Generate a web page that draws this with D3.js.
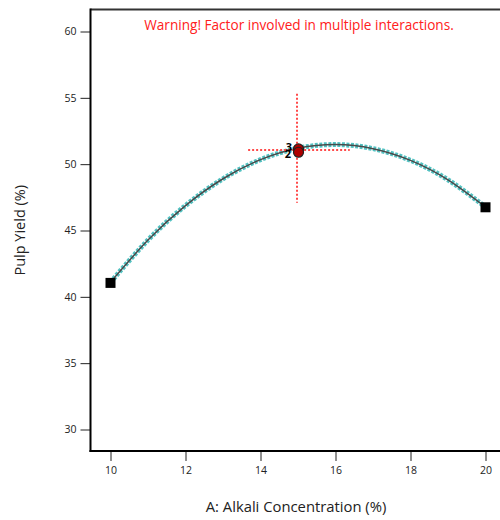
<!DOCTYPE html>
<html><head><meta charset="utf-8">
<script src="https://cdn.jsdelivr.net/npm/d3@7"></script>
<style>body{margin:0;background:#fff}svg{display:block}</style>
</head><body>
<svg id="chart" width="500" height="520"></svg>
<script>
// Data
const curveX = [10, 11, 12, 13, 14, 15, 16, 17, 18, 19, 20];
const curveY = [41.10, 44.28, 46.88, 48.90, 50.34, 51.20, 51.48, 51.17, 50.29, 48.82, 46.77];
const endX = [10, 20];
const endY = [41.05, 46.75];
const centerX = [15, 15];
const centerY = [51.15, 50.9];
const centerLabels = ["3", "2"];
const xTicks = [10, 12, 14, 16, 18, 20];
const yTicks = [30, 35, 40, 45, 50, 55, 60];
const crossX = 15, crossY = 51.1;
const xTitle = "A: Alkali Concentration (%)";
const yTitle = "Pulp Yield (%)";
const warning = "Warning! Factor involved in multiple interactions.";

const svg = d3.select("#chart");
const font = "'Open Sans', 'Noto Sans', sans-serif";
const mLeft = 90.5, mTop = 9.5, mBottom = 451, mRight = 520;
const x = d3.scaleLinear().domain([10, 20]).range([110.5, 485.5]);
const y = d3.scaleLinear().domain([30, 60]).range([429.5, 31.5]);

// frame: top line
svg.append("line").attr("x1", mLeft).attr("x2", mRight).attr("y1", mTop).attr("y2", mTop)
  .attr("stroke", "#333").attr("stroke-width", 2);

// axes
const gx = svg.append("g").attr("transform", `translate(0,${mBottom})`)
  .call(d3.axisBottom(x).tickValues(xTicks).tickSize(10).tickSizeOuter(0).tickPadding(6));
const gy = svg.append("g").attr("transform", `translate(${mLeft},0)`)
  .call(d3.axisLeft(y).tickValues(yTicks).tickSize(10).tickSizeOuter(0).tickPadding(4));
[gx, gy].forEach(g => {
  g.select(".domain").remove();
  g.selectAll(".tick line").attr("stroke", "#222");
  g.selectAll(".tick text").attr("font-family", font).attr("font-size", 10.5).attr("fill", "#222");
});
svg.append("line").attr("x1", mLeft).attr("x2", mLeft).attr("y1", mTop - 1).attr("y2", mBottom + 1)
  .attr("stroke", "#000").attr("stroke-width", 2);
svg.append("line").attr("x1", mLeft - 1).attr("x2", mRight).attr("y1", mBottom).attr("y2", mBottom)
  .attr("stroke", "#000").attr("stroke-width", 2);

// titles
svg.append("text").attr("x", 296).attr("y", 512).attr("text-anchor", "middle")
  .attr("font-family", font).attr("font-size", 14.8).attr("fill", "#222").text(xTitle);
svg.append("text").attr("transform", `translate(25,${(mTop + mBottom) / 2}) rotate(-90)`)
  .attr("text-anchor", "middle").attr("font-family", font).attr("font-size", 14.5)
  .attr("fill", "#222").text(yTitle);
svg.append("text").attr("x", 299).attr("y", 30).attr("text-anchor", "middle")
  .attr("font-family", font).attr("font-size", 13.6).attr("fill", "#ff2020").text(warning);

// curve with confidence band look
const pts = curveX.map((v, i) => [v, curveY[i]]);
const line = d3.line().x(d => x(d[0])).y(d => y(d[1])).curve(d3.curveNatural);
svg.append("path").attr("d", line(pts)).attr("fill", "none")
  .attr("stroke", "#52c2c2").attr("stroke-width", 5).attr("stroke-dasharray", "3,1.5");
svg.append("path").attr("d", line(pts)).attr("fill", "none")
  .attr("stroke", "#4a4a4a").attr("stroke-width", 1.5);

// crosshair
const cx0 = Math.round(x(crossX)) - 1, cy0 = Math.round(y(crossY));
svg.append("line").attr("x1", cx0).attr("x2", cx0)
  .attr("y1", y(crossY + 4.2)).attr("y2", y(crossY - 4.0))
  .attr("stroke", "#ff4a4a").attr("stroke-width", 2).attr("stroke-dasharray", "2,2");
svg.append("line").attr("x1", x(crossX - 1.33)).attr("x2", x(crossX + 1.38))
  .attr("y1", cy0).attr("y2", cy0)
  .attr("stroke", "#ff4a4a").attr("stroke-width", 2).attr("stroke-dasharray", "2,2");

// end points
svg.selectAll("rect.pt").data(endX).join("rect").attr("class", "pt")
  .attr("x", (d, i) => x(d) - 5).attr("y", (d, i) => y(endY[i]) - 5)
  .attr("width", 10).attr("height", 10).attr("fill", "#000");

// center points
svg.selectAll("circle.cp").data(centerX).join("circle").attr("class", "cp")
  .attr("cx", d => x(d) + 0.5).attr("cy", (d, i) => y(centerY[i]))
  .attr("r", 5).attr("fill", "#b00000").attr("stroke", "#222").attr("stroke-width", 1.2);
svg.selectAll("text.cl").data(centerLabels).join("text").attr("class", "cl")
  .attr("x", (d, i) => x(centerX[i]) - 6 - i * 1).attr("y", (d, i) => y(centerY[i]) + (i ? 6 : 2))
  .attr("text-anchor", "end").attr("font-family", font).attr("font-weight", "bold")
  .attr("font-size", 11).attr("fill", "#000").text(d => d);
</script>
</body></html>
